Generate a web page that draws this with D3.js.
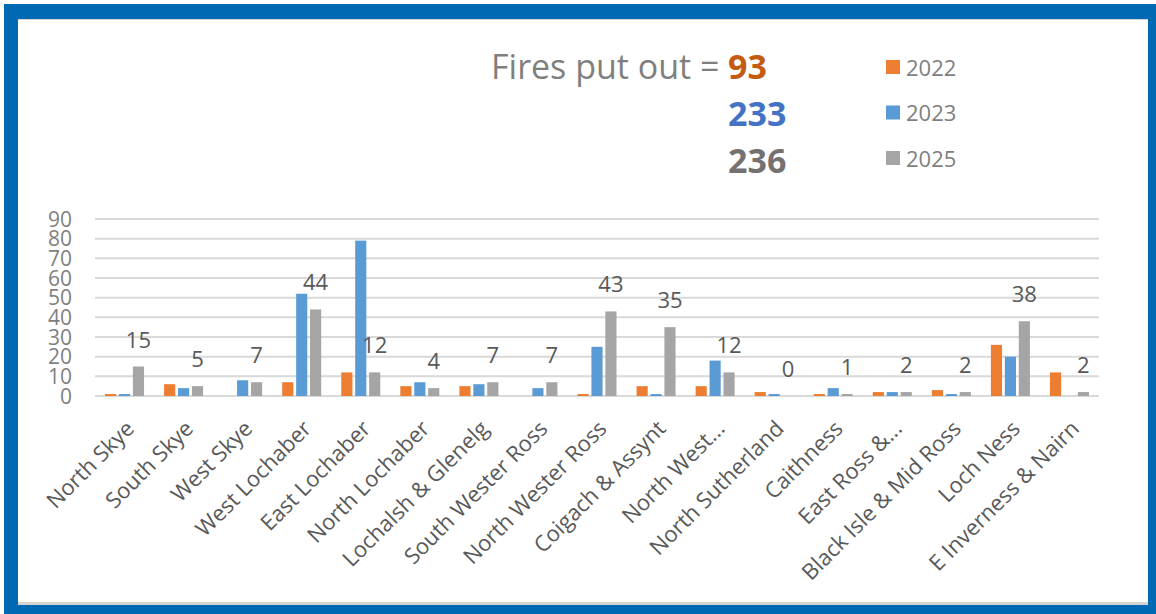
<!DOCTYPE html>
<html>
<head>
<meta charset="utf-8">
<script src="https://cdn.jsdelivr.net/npm/d3@7"></script>
<style>
  html, body { margin: 0; padding: 0; background: #fff; }
  svg { display: block; font-family: "Open Sans", sans-serif; }
</style>
</head>
<body>
<div id="d3-container"></div>
<script>
/**
 * CONSTANTS AND GLOBALS
 * */
const width = 1156,
  height = 614,
  margin = { top: 219, bottom: 218, left: 95, right: 57 };

// data
const areas = [
  "North Skye", "South Skye", "West Skye", "West Lochaber", "East Lochaber",
  "North Lochaber", "Lochalsh & Glenelg", "South Wester Ross", "North Wester Ross",
  "Coigach & Assynt", "North West...", "North Sutherland", "Caithness",
  "East Ross &...", "Black Isle & Mid Ross", "Loch Ness", "E Inverness & Nairn"
];
const years = ["2022", "2023", "2025"];
const fires2022 = [1, 6, 0, 7, 12, 5, 5, 0, 1, 5, 5, 2, 1, 2, 3, 26, 12];
const fires2023 = [1, 4, 8, 52, 79, 7, 6, 4, 25, 1, 18, 1, 4, 2, 1, 20, 0];
const fires2025 = [15, 5, 7, 44, 12, 4, 7, 7, 43, 35, 12, 0, 1, 2, 2, 38, 2];
const yTicks = [0, 10, 20, 30, 40, 50, 60, 70, 80, 90];

const series = [fires2022, fires2023, fires2025];
const barColors = ["#ED7D31", "#5B9BD5", "#A5A5A5"];
const totalColors = ["#C55A11", "#4472C4", "#767171"];

let svg;

init();

function init() {
  svg = d3.select("#d3-container")
    .append("svg")
    .attr("width", width)
    .attr("height", height);

  // blue frame
  svg.append("rect")
    .attr("x", 4).attr("y", 4)
    .attr("width", width - 4).attr("height", height - 4)
    .attr("fill", "#0069B4");
  svg.append("rect")
    .attr("x", 18).attr("y", 19)
    .attr("width", 1130).attr("height", 586)
    .attr("fill", "#D4D4D4");
  svg.append("rect")
    .attr("x", 18).attr("y", 20)
    .attr("width", 1130).attr("height", 582)
    .attr("fill", "#FFFFFF");

  const x = d3.scaleBand()
    .domain(areas)
    .range([margin.left, width - margin.right])
    .padding(0);

  const y = d3.scaleLinear()
    .domain([0, 90])
    .range([height - margin.bottom, margin.top]);

  // bars inside one group: 10.5px wide, 13px apart
  const x1 = d3.scaleBand()
    .domain(years)
    .range([x.bandwidth() / 2 - 19.5, x.bandwidth() / 2 + 19.5])
    .paddingInner(0.2);

  // gridlines
  svg.append("g")
    .selectAll("line")
    .data(yTicks)
    .join("line")
    .attr("x1", margin.left)
    .attr("x2", width - margin.right)
    .attr("y1", d => y(d))
    .attr("y2", d => y(d))
    .attr("stroke", "#D9D9D9")
    .attr("stroke-width", 2);

  // y axis labels
  svg.append("g")
    .selectAll("text")
    .data(yTicks)
    .join("text")
    .attr("x", 72)
    .attr("y", d => y(d))
    .attr("dy", "0.36em")
    .attr("text-anchor", "end")
    .attr("font-size", 21)
    .attr("fill", "#7F7F7F")
    .text(d => d);

  // bars
  const groups = svg.append("g")
    .selectAll("g")
    .data(areas)
    .join("g")
    .attr("transform", d => `translate(${x(d)},0)`);

  groups.selectAll("rect")
    .data((d, i) => years.map((yr, j) => ({ year: yr, value: series[j][i], j })))
    .join("rect")
    .attr("x", d => x1(d.year))
    .attr("width", x1.bandwidth())
    .attr("y", d => y(d.value))
    .attr("height", d => y(0) - y(d.value))
    .attr("fill", d => barColors[d.j]);

  // data labels on 2025 only
  groups.append("text")
    .attr("x", x1("2025") + x1.bandwidth() / 2)
    .attr("y", (d, i) => y(fires2025[i]) - 19)
    .attr("text-anchor", "middle")
    .attr("font-size", 22)
    .attr("fill", "#595959")
    .text((d, i) => fires2025[i]);

  // category labels, rotated
  svg.append("g")
    .selectAll("text")
    .data(areas)
    .join("text")
    .attr("text-anchor", "end")
    .attr("transform", d => `translate(${x(d) + x.bandwidth() / 2 + 11},${y(0) + 34}) rotate(-45)`)
    .attr("font-size", 22)
    .attr("fill", "#595959")
    .text(d => d);

  // title with totals
  svg.append("text")
    .attr("x", 491)
    .attr("y", 79)
    .attr("font-size", 34)
    .attr("fill", "#7F7F7F")
    .text("Fires put out =");

  svg.append("g")
    .selectAll("text")
    .data(series)
    .join("text")
    .attr("x", 728)
    .attr("y", (d, i) => 79 + i * 47)
    .attr("font-size", 34)
    .attr("font-weight", "bold")
    .attr("fill", (d, i) => totalColors[i])
    .text(d => d3.sum(d));

  // legend
  const legend = svg.append("g")
    .selectAll("g")
    .data(years)
    .join("g")
    .attr("transform", (d, i) => `translate(886,${60 + i * 45.5})`);

  legend.append("rect")
    .attr("width", 14)
    .attr("height", 14)
    .attr("fill", (d, i) => barColors[i]);

  legend.append("text")
    .attr("x", 20)
    .attr("y", 15.5)
    .attr("font-size", 22)
    .attr("fill", "#7F7F7F")
    .text(d => d);
}
</script>
</body>
</html>
